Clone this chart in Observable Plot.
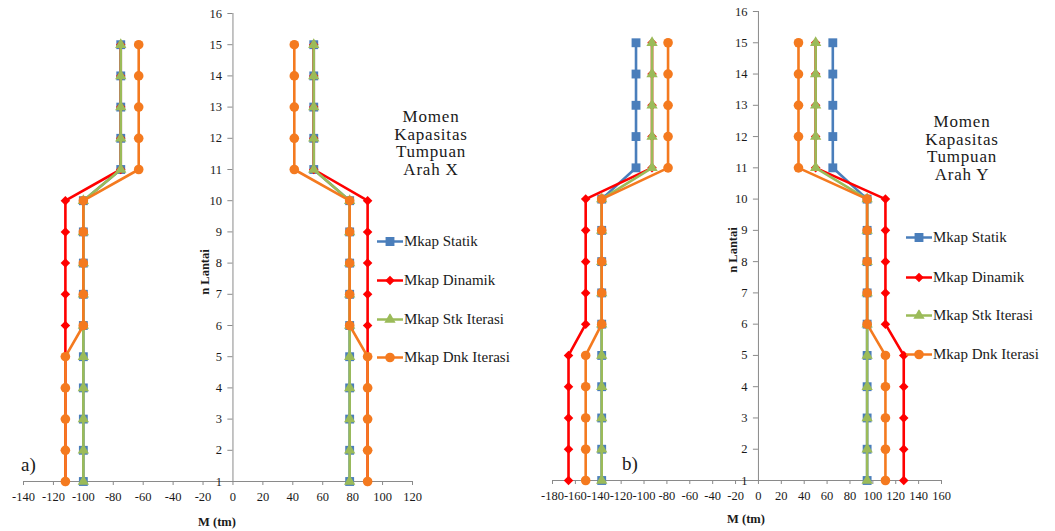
<!DOCTYPE html>
<html><head><meta charset="utf-8">
<script src="https://cdn.jsdelivr.net/npm/d3@7"></script>
<script src="https://cdn.jsdelivr.net/npm/@observablehq/plot@0.6"></script>
<style>
body{margin:0;background:#fff;font-family:"Liberation Serif","Times New Roman",serif;color:#1a1a1a;}
#wrap{position:relative;width:1055px;height:531px;overflow:hidden;}
.chart{position:absolute;top:0;}
.title{position:absolute;text-align:center;font-size:17px;line-height:17.5px;letter-spacing:0.8px;transform:translateX(-50%);white-space:nowrap;}
.leg{position:absolute;font-size:15px;display:flex;align-items:center;white-space:nowrap;transform:translateY(-50%);}
.leg svg{margin-right:1px;}
.xl{position:absolute;font-weight:bold;font-size:12.5px;transform:translate(-50%,-50%);white-space:nowrap;}
.yl{position:absolute;font-weight:bold;font-size:12.5px;transform:translate(-50%,-50%) rotate(-90deg);white-space:nowrap;}
.tag{position:absolute;font-size:19px;transform:translateY(-50%);}
</style>
</head><body>
<div id="wrap"></div>
<script>
// ---------- data ----------
const floors = [1,2,3,4,5,6,7,8,9,10,11,12,13,14,15];
const seriesNames = ["Mkap Statik","Mkap Dinamik","Mkap Stk Iterasi","Mkap Dnk Iterasi"];
const seriesColors = ["#4A7EBB","#FF0000","#9BBB59","#F47A1F"];
const seriesSymbols = ["square","diamond2","triangle","circle"];
const seriesRadius = [5,4.3,4.2,4.8];
const yTicks = [1,2,3,4,5,6,7,8,9,10,11,12,13,14,15,16];

// chart a) Arah X
const aXTicks = [-140,-120,-100,-80,-60,-40,-20,0,20,40,60,80,100,120];
const aStatikNeg = [-100,-100,-100,-100,-100,-100,-100,-100,-100,-100,-75,-75,-75,-75,-75];
const aStatikPos = [78,78,78,78,78,78,78,78,78,78,54,54,54,54,54];
const aDinamikNeg = [-112,-112,-112,-112,-112,-112,-112,-112,-112,-112,-75,-75,-75,-75,-75];
const aDinamikPos = [90,90,90,90,90,90,90,90,90,90,54,54,54,54,54];
const aStkNeg = [-100,-100,-100,-100,-100,-100,-100,-100,-100,-100,-75,-75,-75,-75,-75];
const aStkPos = [78,78,78,78,78,78,78,78,78,78,54,54,54,54,54];
const aDnkNeg = [-112,-112,-112,-112,-112,-100,-100,-100,-100,-100,-63,-63,-63,-63,-63];
const aDnkPos = [90,90,90,90,90,78,78,78,78,78,41,41,41,41,41];

// chart b) Arah Y
const bXTicks = [-180,-160,-140,-120,-100,-80,-60,-40,-20,0,20,40,60,80,100,120,140,160];
const bStatikNeg = [-137,-137,-137,-137,-137,-137,-137,-137,-137,-137,-107,-107,-107,-107,-107];
const bStatikPos = [95,95,95,95,95,95,95,95,95,95,65,65,65,65,65];
const bDinamikNeg = [-166,-166,-166,-166,-166,-151,-151,-151,-151,-151,-93,-93,-93,-93,-93];
const bDinamikPos = [127,127,127,127,127,111,111,111,111,111,50,50,50,50,50];
const bStkNeg = [-137,-137,-137,-137,-137,-137,-137,-137,-137,-137,-93,-93,-93,-93,-93];
const bStkPos = [95,95,95,95,95,95,95,95,95,95,50,50,50,50,50];
const bDnkNeg = [-151,-151,-151,-151,-151,-137,-137,-137,-137,-137,-79,-79,-79,-79,-79];
const bDnkPos = [111,111,111,111,111,95,95,95,95,95,35,35,35,35,35];

// ---------- drawing ----------
const wrap = document.getElementById("wrap");
const axisColor = "#8a8a8a";
const serifFont = '"Liberation Serif", "Times New Roman", serif';

function makeChart(cfg){
  const neg = cfg.neg, pos = cfg.pos;
  const rows = [];
  seriesNames.forEach((s,i)=>{
    floors.forEach((f,j)=>{
      rows.push({series:s, side:"neg", floor:f, m:neg[i][j]});
    });
    floors.forEach((f,j)=>{
      rows.push({series:s, side:"pos", floor:f, m:pos[i][j]});
    });
  });
  const marks = [
    Plot.ruleY([1], {stroke: axisColor, strokeWidth: 1}),
    Plot.ruleX([0], {y1: 1, y2: 16, stroke: axisColor, strokeWidth: 1}),
    Plot.ruleY(yTicks, {y: d=>d, x1: 0, x2: cfg.tickLen, stroke: axisColor}),
    Plot.text(yTicks, {x: 0, y: d=>d, text: d=>String(d), dx: -11, textAnchor: "end", fontSize: 12.5, fill: "#1a1a1a"})
  ];
  seriesNames.forEach((s,i)=>{
    const d = rows.filter(r=>r.series===s);
    marks.push(Plot.line(d, {x:"m", y:"floor", z:"side", stroke: seriesColors[i], strokeWidth: 2.6}));
    marks.push(Plot.dot(d, {x:"m", y:"floor", symbol: ()=>seriesSymbols[i], r: seriesRadius[i], fill: seriesColors[i], stroke: "none"}));
  });
  const svg = Plot.plot({
    width: cfg.width, height: 531,
    marginLeft: cfg.ml, marginRight: cfg.width - cfg.xr, marginTop: cfg.mt, marginBottom: 531 - cfg.yb,
    style: {fontFamily: serifFont, fontSize: "12.5px", color: "#1a1a1a", background: "transparent"},
    symbol: {type: "identity"},
    x: {domain: cfg.xDomain, ticks: cfg.xTicks, tickFormat: d=>String(d), tickSize: 4, tickPadding: 7, label: null, axis: "bottom"},
    y: {domain: [1,16], axis: null},
    marks
  });
  svg.classList.add("chart");
  svg.style.left = cfg.left + "px";
  svg.querySelectorAll('g[aria-label="x-axis tick"] path').forEach(p=>p.setAttribute("stroke", axisColor));
  wrap.appendChild(svg);
}

makeChart({left:0, width:527, ml:23, xr:412, mt:13, yb:481, xDomain:[-140,120], xTicks:aXTicks, tickLen:-3.4,
  neg:[aStatikNeg,aDinamikNeg,aStkNeg,aDnkNeg], pos:[aStatikPos,aDinamikPos,aStkPos,aDnkPos]});
makeChart({left:525, width:530, ml:27, xr:416, mt:11, yb:480, xDomain:[-180,160], xTicks:bXTicks, tickLen:-4.4,
  neg:[bStatikNeg,bDinamikNeg,bStkNeg,bDnkNeg], pos:[bStatikPos,bDinamikPos,bStkPos,bDnkPos]});

function addDiv(cls, html, x, y){
  const d = document.createElement("div");
  d.className = cls; d.innerHTML = html;
  d.style.left = x + "px"; d.style.top = y + "px";
  wrap.appendChild(d);
  return d;
}
addDiv("title", "Momen<br>Kapasitas<br>Tumpuan<br>Arah X", 431, 108);
addDiv("title", "Momen<br>Kapasitas<br>Tumpuan<br>Arah Y", 962, 113);
addDiv("xl", "M (tm)", 217, 522);
addDiv("xl", "M (tm)", 746, 519);
addDiv("yl", "n Lantai", 205, 272);
addDiv("yl", "n Lantai", 733, 250);
addDiv("tag", "a)", 21, 465);
addDiv("tag", "b)", 622, 464);

function legendSym(i){
  const sym = {square:d3.symbolSquare, diamond2:d3.symbolDiamond2, triangle:d3.symbolTriangle, circle:d3.symbolCircle}[seriesSymbols[i]];
  const path = d3.symbol(sym, Math.PI*seriesRadius[i]*seriesRadius[i])();
  return `<svg width="26" height="12"><line x1="0" x2="26" y1="6" y2="6" stroke="${seriesColors[i]}" stroke-width="2.6"/><path transform="translate(13,6)" d="${path}" fill="${seriesColors[i]}"/></svg>`;
}
const legA = [241,280,319,357], legB = [237,277,315,354];
seriesNames.forEach((s,i)=>{
  addDiv("leg", legendSym(i) + s, 377, legA[i]);
  addDiv("leg", legendSym(i) + s, 906, legB[i]);
});
</script>
</body></html>
